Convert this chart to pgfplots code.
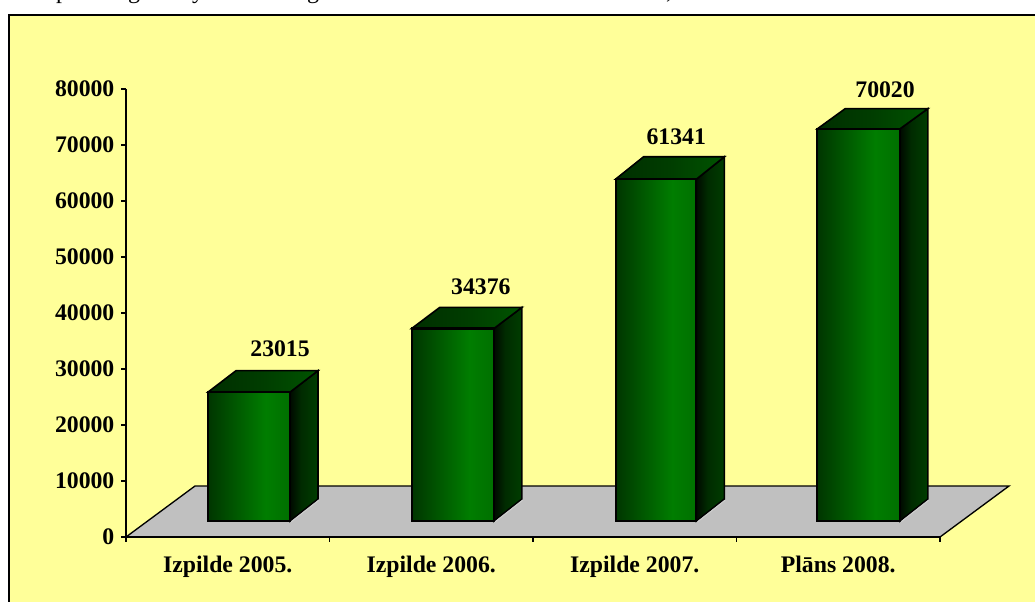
\documentclass[border=0pt]{standalone}
\usepackage{fontspec}
\setmainfont{Liberation Serif}
\usepackage{pgfplots}
\pgfplotsset{compat=1.18}
\definecolor{paper}{RGB}{255,255,153}
\definecolor{floorgray}{RGB}{192,192,192}
\definecolor{edgelight}{RGB}{205,205,205}
% 1 px of the reference = 0.75pt
\pgfdeclarehorizontalshading{barfront}{100bp}{
  rgb(0bp)=(0,0.21,0); rgb(25bp)=(0,0.21,0);
  rgb(60bp)=(0,0.49,0); rgb(75bp)=(0,0.44,0);
  rgb(100bp)=(0,0.44,0)}
\pgfdeclarehorizontalshading{barside}{100bp}{
  rgb(0bp)=(0,0.04,0); rgb(25bp)=(0,0.04,0);
  rgb(45bp)=(0,0.17,0); rgb(75bp)=(0,0.24,0);
  rgb(100bp)=(0,0.24,0)}
\pgfdeclarehorizontalshading{bartop}{100bp}{
  rgb(0bp)=(0,0.18,0); rgb(25bp)=(0,0.18,0);
  rgb(50bp)=(0,0.24,0); rgb(75bp)=(0,0.33,0);
  rgb(100bp)=(0,0.33,0)}
\pgfplotsset{
  front/.style={shading=barfront,draw=black,line width=1.6pt,line join=miter},
  side/.style={shading=barside,draw=black,line width=1.2pt,line join=miter},
  roof/.style={shading=bartop,draw=black,line width=1.2pt,line join=miter},
  rim/.style={edgelight,line width=0.8pt},
}
\begin{document}
\begin{tikzpicture}
\path[use as bounding box] (0pt,0pt) rectangle (776.25pt,-450.75pt);
\clip (0pt,0pt) rectangle (776.25pt,-450.75pt);
\fill[white] (0pt,0pt) rectangle (776.25pt,-450.75pt);
\draw[black,line width=1.9pt,fill=paper] (6.75pt,-11.25pt) rectangle (790pt,-470pt);
% the line of text above the frame is cut off by the page edge
\foreach \xx/\ch in {46.5/p,100.5/g,148.5/y,234.75/g,501.75/{,}}
  \node[anchor=base,inner sep=0pt,font=\fontsize{18}{20}\selectfont] at (\xx pt,1.5pt) {\ch};
\begin{axis}[
  at={(94.5pt,-402.75pt)},anchor=south west,
  scale only axis,width=610.5pt,height=336pt,
  xmin=0,xmax=4,ymin=0,ymax=80000,
  clip=false,
  axis x line=bottom,axis y line=left,
  axis line style={-,black,line width=1.1pt},
  every tick/.style={black,line width=0.9pt},
  tick align=outside,major tick length=3.4pt,
  xtick={0,1,2,3,4},
  xticklabels={Izpilde 2005.,Izpilde 2006.,Izpilde 2007.,Plāns 2008.},
  x tick label as interval,
  ytick={0,10000,20000,30000,40000,50000,60000,70000,80000},
  scaled y ticks=false,
  /pgf/number format/assume math mode=true,
  /pgf/number format/1000 sep={},
  tick label style={font=\fontsize{17.8}{20}\selectfont\bfseries,black},
  yticklabel style={xshift=-1.8pt},
  xticklabel style={yshift=-7pt},
]
% floor
\addplot[fill=floorgray,draw=black,line width=1pt] coordinates {(0,0) (0.339,9107) (4.339,9107) (4,0)} --cycle;
\draw[black,line width=1.1pt] (axis cs:0,0) -- (axis cs:4,0);

% Izpilde 2005.
\addplot[side] coordinates {(0.806,2857) (0.9436,6787) (0.9436,29700) (0.806,25872)} --cycle;
\addplot[roof] coordinates {(0.403,25872) (0.5406,29700) (0.9436,29700) (0.806,25872)} --cycle;
\addplot[front] coordinates {(0.403,2857) (0.806,2857) (0.806,25872) (0.403,25872)} --cycle;
\addplot[rim] coordinates {(0.812,2720) (0.948,6600)};

% Izpilde 2006.
\addplot[side] coordinates {(1.808,2857) (1.9456,6787) (1.9456,41000) (1.808,37233)} --cycle;
\addplot[roof] coordinates {(1.404,37233) (1.5416,41000) (1.9456,41000) (1.808,37233)} --cycle;
\addplot[front] coordinates {(1.404,2857) (1.808,2857) (1.808,37233) (1.404,37233)} --cycle;
\addplot[rim] coordinates {(1.814,2720) (1.950,6600)};

% Izpilde 2007.
\addplot[side] coordinates {(2.803,2857) (2.9406,6787) (2.9406,67900) (2.803,63900)} --cycle;
\addplot[roof] coordinates {(2.406,63900) (2.5436,67900) (2.9406,67900) (2.803,63900)} --cycle;
\addplot[front] coordinates {(2.406,2857) (2.803,2857) (2.803,63900) (2.406,63900)} --cycle;
\addplot[rim] coordinates {(2.809,2720) (2.945,6600)};

% Plans 2008.
\addplot[side] coordinates {(3.803,2857) (3.9406,6787) (3.9406,76500) (3.803,72877)} --cycle;
\addplot[roof] coordinates {(3.397,72877) (3.5346,76500) (3.9406,76500) (3.803,72877)} --cycle;
\addplot[front] coordinates {(3.397,2857) (3.803,2857) (3.803,72877) (3.397,72877)} --cycle;
\addplot[rim] coordinates {(3.809,2720) (3.945,6600)};

% value labels
\begin{scope}[every node/.style={font=\fontsize{17.8}{20}\selectfont\bfseries,inner sep=0pt}]
\node at (axis cs:0.757,33571) {23015};
\node at (axis cs:1.744,44643) {34376};
\node at (axis cs:2.704,71429) {61341};
\node at (axis cs:3.730,79821) {70020};
\end{scope}
\end{axis}
\end{tikzpicture}
\end{document}
